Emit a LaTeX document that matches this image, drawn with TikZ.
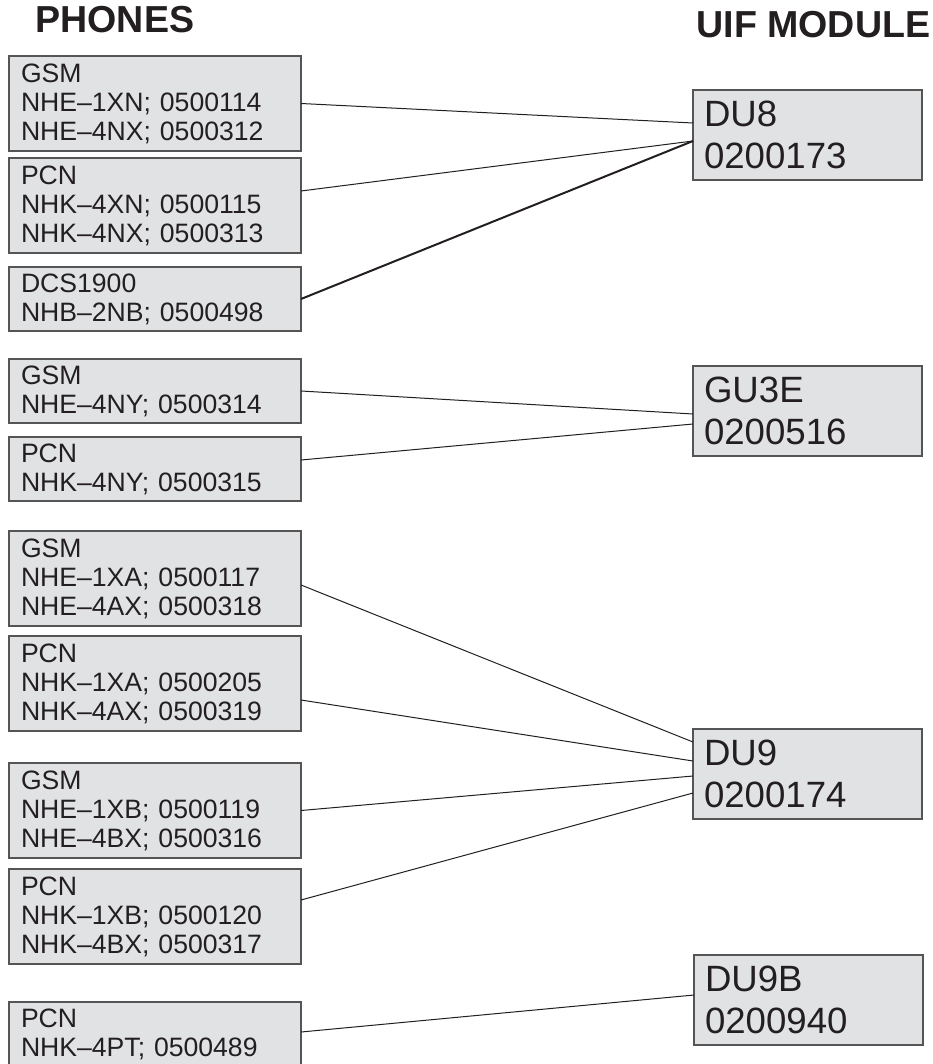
\documentclass[tikz,border=0pt]{standalone}
\usepackage{fontspec}
\setmainfont{Liberation Sans}
\usepackage{tikz}
\usetikzlibrary{calc,positioning}
\definecolor{box-fill}{HTML}{E1E2E4}
\definecolor{box-line}{HTML}{555555}
\definecolor{ink}{HTML}{231F20}

\begin{document}
\begin{tikzpicture}[x=0.5pt, y=0.5pt,
    phone/.style={draw=box-line, fill=box-fill, line width=0.75pt, text=ink, outer sep=0pt,
        text width=134pt, inner xsep=6pt, inner ysep=2pt, align=left,
        font=\fontsize{13.3pt}{14.5pt}\selectfont},
    phone3/.style={phone, minimum height=47.5pt},
    phone2/.style={phone, minimum height=32pt},
    module/.style={draw=box-line, fill=box-fill, line width=0.75pt, text=ink, outer sep=0pt,
        text width=103.5pt, inner xsep=5.5pt, inner ysep=2pt, align=left, minimum height=45pt,
        anchor=north west, font=\fontsize{18.3pt}{21pt}\selectfont},
    wire/.style={draw=ink, line width=0.5pt},
    heading/.style={anchor=base west, text=ink, inner sep=0pt,
        font=\fontsize{18.8pt}{22pt}\selectfont\bfseries}]
    \useasboundingbox (0,0) rectangle (932,-1064);

    % column titles
    \node[heading] (phones) at (35,-33) {PHONES};
    \node[heading] (uif) at (696,-38) {UIF MODULE};

    % phones
    \node[phone3, anchor=north west] (gsm1) at (9,-56) {GSM\\NHE–1XN; 0500114\\NHE–4NX; 0500312};
    \node[phone3, below=3.5pt of gsm1] (pcn1) {PCN\\NHK–4XN; 0500115\\NHK–4NX; 0500313};
    \node[phone2, below=7pt of pcn1] (dcs1) {DCS1900\\NHB–2NB; 0500498};
    \node[phone2, below=14pt of dcs1] (gsm2) {GSM\\NHE–4NY; 0500314};
    \node[phone2, below=7pt of gsm2] (pcn2) {PCN\\NHK–4NY; 0500315};
    \node[phone3, below=15pt of pcn2] (gsm3) {GSM\\NHE–1XA; 0500117\\NHE–4AX; 0500318};
    \node[phone3, below=5pt of gsm3] (pcn3) {PCN\\NHK–1XA; 0500205\\NHK–4AX; 0500319};
    \node[phone3, below=16pt of pcn3] (gsm4) {GSM\\NHE–1XB; 0500119\\NHE–4BX; 0500316};
    \node[phone3, below=5.5pt of gsm4] (pcn4) {PCN\\NHK–1XB; 0500120\\NHK–4BX; 0500317};
    \node[phone2, below=19pt of pcn4] (pcn5) {PCN\\NHK–4PT; 0500489};

    % uif modules
    \node[module] (du8) at (693,-90) {DU8\\0200173};
    \node[module] (gu3e) at (693,-366) {GU3E\\0200516};
    \node[module] (du9) at (693,-729) {DU9\\0200174};
    \node[module] (du9b) at (694,-955) {DU9B\\0200940};

    % connections
    \draw[wire] (gsm1.east) -- ([yshift=6pt]du8.west);
    \draw[wire] ([yshift=7.25pt]pcn1.east) -- ([yshift=-3pt]du8.west);
    \draw[wire, line width=1pt] (dcs1.east) -- ([yshift=-3pt]du8.west);
    \draw[wire] (gsm2.east) -- ([yshift=-1.5pt]gu3e.west);
    \draw[wire] ([yshift=4.5pt]pcn2.east) -- ([yshift=-6.5pt]gu3e.west);
    \draw[wire] ([yshift=-3.25pt]gsm3.east) -- ([yshift=16pt]du9.west);
    \draw[wire] ([yshift=-8.25pt]pcn3.east) -- ([yshift=6.5pt]du9.west);
    \draw[wire] (gsm4.east) -- ([yshift=-1pt]du9.west);
    \draw[wire] ([yshift=8.25pt]pcn4.east) -- ([yshift=-9.5pt]du9.west);
    \draw[wire] ([yshift=1pt]pcn5.east) -- ([yshift=2.5pt]du9b.west);
\end{tikzpicture}
\end{document}
